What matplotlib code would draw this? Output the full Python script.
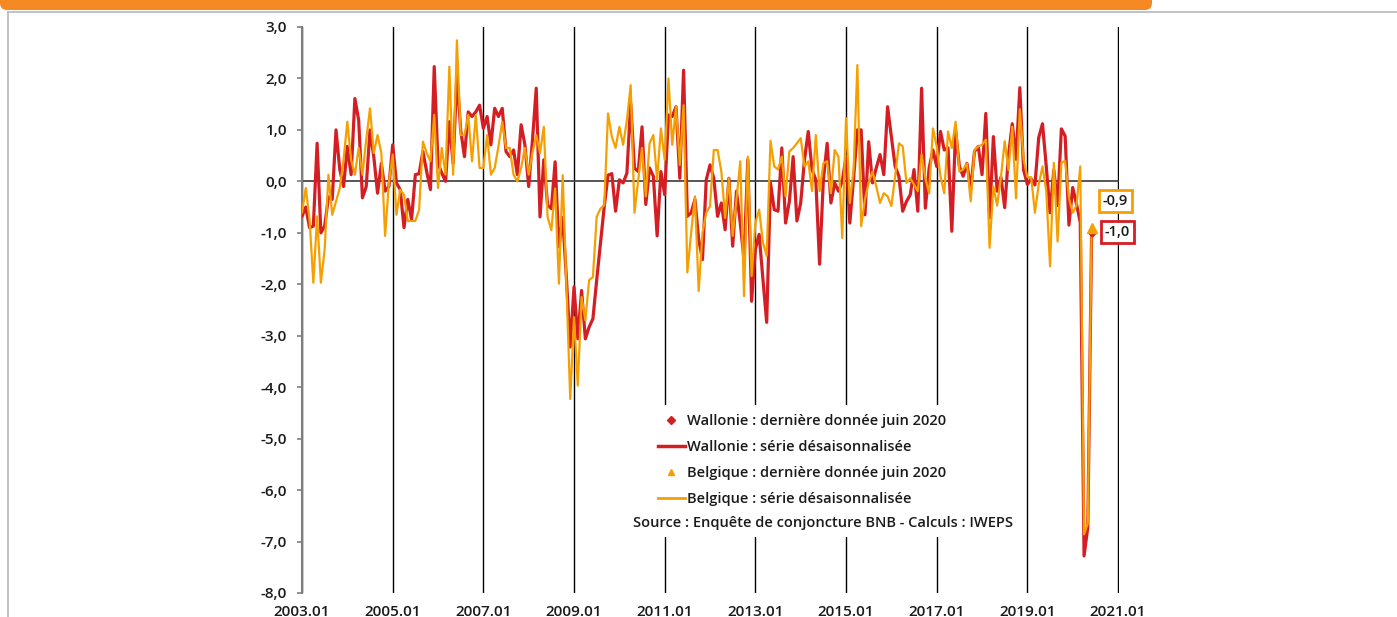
import matplotlib
matplotlib.use('Agg')
import matplotlib.pyplot as plt
import numpy as np
from matplotlib.patches import Rectangle, FancyBboxPatch
from matplotlib.lines import Line2D

plt.rcParams['font.family'] = ['Open Sans', 'DejaVu Sans']

start_year = 2003
# Monthly series 2003.01 - 2020.06
wallonie = [
    -0.68, -0.5, -0.9, -0.87, 0.74, -1.0, -0.87, -0.3, -0.35, 1.0, 0.23, -0.1,
    0.68, 0.13, 1.61, 1.19, -0.32, -0.1, 1.0, 0.48, -0.23, 0.35, -0.19, -0.1,
    0.71, -0.03, -0.16, -0.9, -0.35, -0.74, 0.13, 0.15, 0.58, 0.19, -0.16, 2.23,
    0.35, 0.16, 0.0, 1.16, 0.35, 2.06, 1.0, 0.48, 1.35, 1.26, 1.35, 1.48,
    1.03, 1.26, 0.71, 1.42, 1.26, 1.42, 0.58, 0.48, 0.61, 0.13, 1.1, 0.71,
    -0.1, 0.8, 1.81, -0.69, 0.42, -0.46, -0.53, 0.38, -1.27, -0.7, -1.9, -3.22,
    -2.05, -3.06, -2.12, -3.06, -2.83, -2.67, -1.92, -1.21, -0.49, 0.12, 0.15, -0.58,
    0.03, -0.03, 0.16, 1.52, 0.26, 0.19, 1.06, -0.45, 0.26, 0.1, -1.06, 0.19,
    -0.26, 1.29, 1.26, 1.45, 0.06, 2.16, -0.68, -0.61, -0.35, -1.13, -1.52, 0.03,
    0.32, 0.06, -0.68, -0.42, -0.94, 0.06, -1.26, -0.19, -0.81, -1.52, 0.42, -2.33,
    -1.32, -1.03, -1.9, -2.74, -0.03, -0.55, -0.58, 0.65, -0.81, -0.39, 0.48, -0.77,
    -0.42, 0.42, 0.97, 0.23, 0.03, -1.61, 0.03, 0.74, -0.42, -0.03, -0.19, 0.0,
    0.48, -0.81, 0.06, 1.0, 1.0, -0.65, 0.77, -0.03, 0.26, 0.52, 0.13, 1.45,
    0.87, 0.29, 0.1, -0.58, -0.39, -0.26, 0.23, -0.58, 1.81, -0.52, 0.26, 0.61,
    0.29, 0.97, 0.61, 0.65, -0.97, 1.0, 0.29, 0.1, 0.35, -0.16, 0.58, 0.68,
    0.13, 1.32, -0.71, 0.87, -0.19, 0.08, -0.51, 0.5, 1.12, 0.43, 1.82, 0.22,
    -0.06, 0.05, -0.07, 0.85, 1.12, 0.29, -0.61, 0.22, -0.47, 1.02, 0.88, -0.85,
    -0.12, -0.44, -0.8, -7.28, -6.72, -1.0,
]
belgique = [
    -0.6, -0.13, -0.74, -1.97, -0.68, -1.97, -1.32, 0.13, -0.65, -0.39, -0.13, 0.42,
    1.16, 0.42, 0.13, 0.65, 0.13, 0.81, 1.42, 0.55, 0.9, 0.55, -1.06, -0.03,
    0.52, -0.65, -0.16, -0.26, -0.77, -0.77, -0.77, -0.55, 0.77, 0.55, 0.39, 1.29,
    -0.13, 0.65, 0.13, 2.23, 0.13, 2.74, 0.9, 0.9, 1.29, 0.39, 1.29, 0.26,
    0.26, 0.9, 0.13, 0.26, 0.68, 1.16, 0.65, 0.65, 0.13, 0.0, 0.26, 0.65,
    0.13, 0.55, 0.9, 0.55, 1.06, -0.69, -0.95, -0.14, -1.99, 0.12, -2.05, -4.23,
    -2.64, -3.97, -2.25, -2.7, -1.92, -1.86, -0.69, -0.53, -0.46, 1.32, 0.87, 0.65,
    1.06, 0.71, 1.19, 1.87, -0.61, 0.03, 0.65, -0.29, 0.74, 0.9, 0.03, 1.03,
    0.42, 2.0, 0.71, 1.45, 0.32, 1.48, -1.77, -1.0, -0.29, -2.13, -1.0, -0.61,
    -0.48, 0.61, 0.61, 0.19, -0.71, 0.06, -1.06, -0.35, 0.39, -2.23, 0.48, -1.84,
    -0.81, -0.55, -1.19, -1.45, 0.79, 0.29, 0.23, 0.48, -0.29, 0.58, 0.65, 0.74,
    0.84, 0.29, 0.39, -0.19, 0.9, -0.19, 0.35, 0.39, -0.23, 0.61, 0.48, -1.1,
    1.23, -0.42, 0.23, 2.26, -0.87, -0.35, -0.03, 0.19, -0.1, -0.42, -0.23, -0.29,
    -0.48, 0.1, 0.74, 0.68, -0.03, 0.06, -0.06, -0.19, 0.52, 0.06, -0.23, 1.03,
    0.68, 0.1, -0.23, 0.97, 0.65, 1.16, 0.19, 0.23, 0.35, -0.39, 0.61, 0.68,
    0.71, 0.81, -1.29, -0.1, -0.47, 0.08, 0.78, 0.22, 1.06, -0.33, 1.4, 0.43,
    0.08, 0.08, -0.61, -0.06, 0.29, -0.19, -1.65, 0.36, -1.17, 0.36, 0.4, -0.33,
    -0.61, -0.47, 0.29, -6.86, -6.65, -0.9,
]
x_ticks = [2003, 2005, 2007, 2009, 2011, 2013, 2015, 2017, 2019, 2021]
x_tick_labels = ['2003.01', '2005.01', '2007.01', '2009.01', '2011.01',
                 '2013.01', '2015.01', '2017.01', '2019.01', '2021.01']
y_ticks = [3, 2, 1, 0, -1, -2, -3, -4, -5, -6, -7, -8]
y_tick_labels = ['3,0', '2,0', '1,0', '0,0', '-1,0', '-2,0', '-3,0', '-4,0',
                 '-5,0', '-6,0', '-7,0', '-8,0']
labels = ['Wallonie : dernière donnée juin 2020',
          'Wallonie : série désaisonnalisée',
          'Belgique : dernière donnée juin 2020',
          'Belgique : série désaisonnalisée']
last_labels = ['-0,9', '-1,0']
source = 'Source : Enquête de conjoncture BNB - Calculs : IWEPS'

RED = '#D41E24'
ORANGE = '#F5A000'
TXT = '#1a1a1a'

W, H = 1397, 617
fig = plt.figure(figsize=(W / 100, H / 100), dpi=100)

# frame decorations
fig.patches.append(FancyBboxPatch((0, (H - 10) / 100), 11.52, 0.3,
                                  boxstyle='round,pad=0,rounding_size=0.07',
                                  transform=fig.dpi_scale_trans,
                                  facecolor='#F58A25', edgecolor='none'))
fig.lines.append(Line2D([7.5 / W, 1], [1 - 12 / H, 1 - 12 / H], transform=fig.transFigure,
                        color='#BDBDBD', lw=1.3))
fig.lines.append(Line2D([7.5 / W, 7.5 / W], [0, 1 - 12 / H], transform=fig.transFigure,
                        color='#BDBDBD', lw=1.3))

ax = fig.add_axes([302 / W, 1 - 593 / H, 816.5 / W, 566 / H])
x = start_year + np.arange(len(wallonie)) / 12.0

ax.set_xlim(2003, 2021.01)
ax.set_ylim(-8, 3)
ax.set_xticks(x_ticks)
ax.set_xticklabels(x_tick_labels)
ax.set_yticks(y_ticks)
ax.set_yticklabels(y_tick_labels)
ax.set_axisbelow(True)
ax.grid(axis='x', color='black', lw=1.0)
ax.grid(axis='y', visible=False)
for s in ['top', 'right', 'bottom']:
    ax.spines[s].set_visible(False)
ax.spines['left'].set_color('#7F7F7F')
ax.spines['left'].set_linewidth(1.5)
ax.tick_params(axis='x', length=0, pad=9, labelsize=11, labelcolor=TXT)
ax.tick_params(axis='y', length=3.6, width=1.2, color='#7F7F7F', pad=7,
               labelsize=11, labelcolor=TXT)
for lab in ax.get_xticklabels() + ax.get_yticklabels():
    lab.set_fontweight('semibold')

ax.axhline(0, color='#3A3A3A', lw=1.2, zorder=1.5)

# white area behind legend
ax.add_patch(Rectangle((0.365, 0.099), 0.521, 0.233, transform=ax.transAxes,
                       facecolor='white', edgecolor='none', zorder=1))

ax.plot(x, wallonie, color=RED, lw=2.3, zorder=3, solid_joinstyle='round')
ax.plot(x, belgique, color=ORANGE, lw=1.6, zorder=4, solid_joinstyle='round')
ax.plot(x[-1], wallonie[-1], marker='D', color=RED, ms=3.5, ls='none', zorder=5)
ax.plot(x[-1], belgique[-1], marker='^', color=ORANGE, ms=7, ls='none', zorder=6)

ax.annotate(last_labels[0], xy=(x[-1], belgique[-1]), xytext=(24, 27),
            textcoords='offset pixels', ha='center', va='center', fontsize=10.5,
            fontweight='semibold', color=TXT,
            bbox=dict(boxstyle='square,pad=0.28', facecolor='white',
                      edgecolor=ORANGE, lw=2))
ax.annotate(last_labels[1], xy=(x[-1], wallonie[-1]), xytext=(26, 1),
            textcoords='offset pixels', ha='center', va='center', fontsize=10.5,
            fontweight='semibold', color=TXT,
            bbox=dict(boxstyle='square,pad=0.28', facecolor='white',
                      edgecolor=RED, lw=2))

handles = [
    Line2D([], [], marker='D', color=RED, ms=4, ls='none'),
    Line2D([], [], color=RED, lw=2.5),
    Line2D([], [], marker='^', color=ORANGE, ms=5, ls='none'),
    Line2D([], [], color=ORANGE, lw=2),
]
fig.legend(handles, labels, loc='upper left', bbox_to_anchor=(658 / W, 1 - 414 / H),
           frameon=False, prop={'size': 10.5, 'weight': 'semibold'},
           labelcolor=TXT, handlelength=1.85, handletextpad=0.12, labelspacing=0.83,
           borderpad=0, borderaxespad=0)
fig.text(823 / W, 1 - 523 / H, source, ha='center', va='center', fontsize=10.5,
         fontweight='semibold', color=TXT)

fig.savefig('out.png', dpi=100)
